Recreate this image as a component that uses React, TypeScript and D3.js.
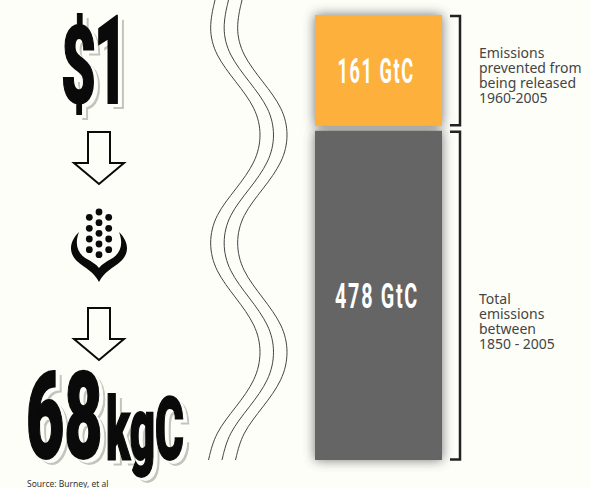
import * as d3 from "d3";

const W = 590;
const H = 488;
const BG = "#fdfef8";
const HEAVY = "Roboto, 'Liberation Sans', sans-serif";
const BODY = "'Noto Sans', sans-serif";

// bars
const barLabels = ["161 GtC", "478 GtC"];
const barValues = [161, 478];
const barColors = ["#fdb03c", "#656565"];
const barNotes = [
  ["Emissions", "prevented from", "being released", "1960-2005"],
  ["Total", "emissions", "between", "1850 - 2005"],
];
const noteBaselines = [58, 304];
const labelSquash = [0.52, 0.565];
const labelCenters = [376, 377];

// squiggle, [x, y] of the left line
const wavePoints: [number, number][] = [
  [215, 0], [208.5, 28], [215, 55], [236, 82], [256, 108], [262, 135], [256, 162],
  [236, 189], [215, 215], [208.5, 243], [215, 271], [236, 298], [256, 325], [262, 352],
  [256, 380], [236, 407], [215, 433], [208.5, 460],
];
const waveOffsets = [0, 13.5, 27];

// corn cob dots
const cobCenter = [212, 222.7, 233.3, 244, 254.7];
const cobSide = [217.3, 228.3, 239, 249.7];

const arrowTops = [132, 308];

function BigText({ text, x, y, size, squash }: { text: string; x: number; y: number; size: number; squash: number }) {
  const layers = [
    { dx: 6, dy: 5, fill: "#c2c4be" },
    { dx: 4, dy: 3, fill: BG },
    { dx: 0, dy: 0, fill: "#0a0a0a" },
  ];
  return (
    <g fontFamily={HEAVY} fontWeight={900} fontSize={size}>
      {layers.map((l, i) => (
        <text
          key={i}
          transform={`translate(${x + l.dx},${y + l.dy}) scale(${squash},1)`}
          fill={l.fill}
          stroke={l.fill}
          strokeWidth={1.5}
          style={{ vectorEffect: "non-scaling-stroke" }}
        >
          {text}
        </text>
      ))}
    </g>
  );
}

export default function App() {
  const total = d3.sum(barValues);
  const gap = 5;
  const y = d3.scaleLinear([0, total], [0, 460 - 15 - gap]);
  const tops = barValues.map((_, i) => 15 + y(d3.sum(barValues.slice(0, i))) + i * gap);
  const wave = d3.line().curve(d3.curveBasis);

  return (
    <svg width={W} height={H} style={{ position: "absolute", left: 0, top: 0 }}>
      <defs>
        <filter id="soft" x="-20%" y="-20%" width="140%" height="140%">
          <feGaussianBlur stdDeviation="6" />
        </filter>
      </defs>
      <rect width={W} height={H} fill={BG} />

      <BigText text="$" x={61} y={103} size={108} squash={0.56} />
      <BigText text="1" x={94} y={103} size={122} squash={0.47} />
      <BigText text="68" x={26} y={458} size={120} squash={0.55} />
      <BigText text="kgC" x={106} y={459} size={88} squash={0.5} />

      {arrowTops.map((t) => (
        <path
          key={t}
          d={`M88,${t}H110V${t + 31}H124L99,${t + 52}L74,${t + 31}H88Z`}
          fill={BG}
          stroke="#0a0a0a"
          strokeWidth={2}
        />
      ))}

      <g fill="#0a0a0a">
        {cobCenter.map((cy) => <circle key={cy} cx={99} cy={cy} r={3.4} />)}
        {cobSide.map((cy) => <circle key={cy} cx={89.3} cy={cy} r={3.4} />)}
        {cobSide.map((cy) => <circle key={cy} cx={108.7} cy={cy} r={3.4} />)}
        <path d="M79,232C68,243 69,254 78,262C85,268 94,272 99,282C104,272 113,268 120,262C129,254 130,243 119,232C124,245 120,254 111,259C106,262 102,264 99,268C96,264 92,262 87,259C78,254 74,245 79,232Z" />
      </g>

      <g fill="none" stroke="#444" strokeWidth={1}>
        {waveOffsets.map((o) => (
          <path key={o} d={wave(wavePoints.map(([px, py]) => [px + o, py] as [number, number])) ?? ""} />
        ))}
      </g>

      {barValues.map((v, i) => (
        <rect key={v} x={315} y={tops[i]} width={127} height={y(v)} fill="#444" opacity={0.75} filter="url(#soft)" />
      ))}
      {barValues.map((v, i) => {
        const mid = tops[i] + y(v) / 2;
        return (
          <g key={v}>
            <rect x={315} y={tops[i]} width={127} height={y(v)} fill={barColors[i]} />
            <text
              transform={`translate(${labelCenters[i]},${mid + 12.5}) scale(${labelSquash[i]},1)`}
              textAnchor="middle"
              fill="#fff"
              fontFamily={HEAVY}
              fontWeight={700}
              fontSize={35}
              letterSpacing={3}
            >
              {barLabels[i]}
            </text>
            <path
              d={`M450,${tops[i] + 1}H460V${tops[i] + y(v) - 0.5}H450`}
              fill="none"
              stroke="#222"
              strokeWidth={2.5}
            />
            <g fontFamily={BODY} fontSize={14} fill="#444">
              {barNotes[i].map((line, j) => (
                <text key={j} x={479} y={noteBaselines[i] + j * 15}>
                  {line}
                </text>
              ))}
            </g>
          </g>
        );
      })}

      <text x={27} y={487} fontFamily={BODY} fontSize={8.5} fill="#333">
        Source: Burney, et al
      </text>
    </svg>
  );
}
